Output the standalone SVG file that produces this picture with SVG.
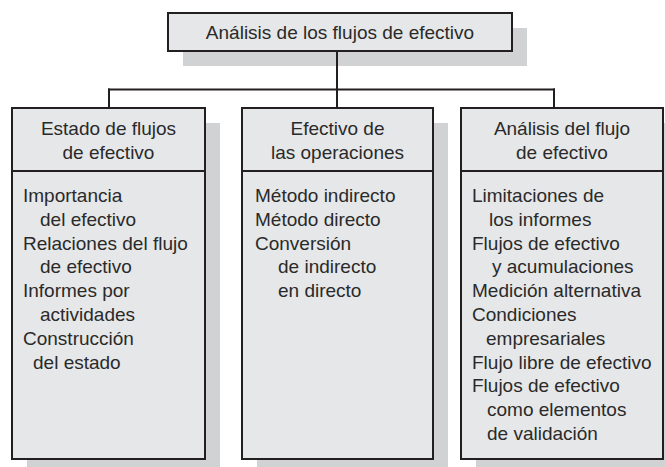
<svg xmlns="http://www.w3.org/2000/svg" width="665" height="467" viewBox="0 0 665 467">
<style>
.box{fill:#e6e7e8;stroke:#231f20;stroke-width:2}
.shadow{fill:#d1d2d4}
.sep{stroke:#231f20;stroke-width:2}
.conn{fill:none;stroke:#231f20;stroke-width:2}
text{font-family:"Liberation Sans",Arial,sans-serif;font-size:19px;fill:#2a2a2a}
.c{text-anchor:middle}
</style>
<rect width="665" height="467" fill="#ffffff"/>
<g id="root">
<rect class="shadow" x="183" y="28" width="344" height="38"/>
<rect class="box" x="168" y="13" width="344" height="38"/>
<text class="c" x="340" y="38.5">Análisis de los flujos de efectivo</text>
</g>
<g id="estado">
<rect class="shadow" x="27" y="123" width="193" height="351"/>
<rect class="box" x="12" y="108" width="193" height="351"/>
<line class="sep" x1="12" y1="171" x2="205" y2="171"/>
<text class="c" x="108.5" y="135">Estado de flujos</text>
<text class="c" x="108.5" y="158.5">de efectivo</text>
<text x="23" y="202">Importancia</text>
<text x="40" y="225.8">del efectivo</text>
<text x="23" y="249.6">Relaciones del flujo</text>
<text x="40" y="273.4">de efectivo</text>
<text x="23" y="297.2">Informes por</text>
<text x="40" y="321">actividades</text>
<text x="23" y="344.8">Construcción</text>
<text x="33" y="368.6">del estado</text>
</g>
<g id="operaciones">
<rect class="shadow" x="257" y="123" width="191" height="351"/>
<rect class="box" x="242" y="108" width="191" height="351"/>
<line class="sep" x1="242" y1="171" x2="433" y2="171"/>
<text class="c" x="337.5" y="135">Efectivo de</text>
<text class="c" x="337.5" y="158.5">las operaciones</text>
<text x="255" y="202">Método indirecto</text>
<text x="255" y="225.8">Método directo</text>
<text x="255" y="249.6">Conversión</text>
<text x="278" y="273.4">de indirecto</text>
<text x="278" y="297.2">en directo</text>
</g>
<g id="analisis">
<rect class="shadow" x="476" y="123" width="202" height="351"/>
<rect class="box" x="461" y="108" width="202" height="351"/>
<line class="sep" x1="461" y1="171" x2="663" y2="171"/>
<text class="c" x="562" y="135">Análisis del flujo</text>
<text class="c" x="562" y="158.5">de efectivo</text>
<text x="472" y="202">Limitaciones de</text>
<text x="489" y="225.8">los informes</text>
<text x="472" y="249.6">Flujos de efectivo</text>
<text x="492" y="273.4">y acumulaciones</text>
<text x="472" y="297.2">Medición alternativa</text>
<text x="472" y="321">Condiciones</text>
<text x="486" y="344.8">empresariales</text>
<text x="472" y="368.6">Flujo libre de efectivo</text>
<text x="472" y="392.4">Flujos de efectivo</text>
<text x="487" y="416.2">como elementos</text>
<text x="487" y="440">de validación</text>
</g>
<g id="connectors">
<line class="conn" x1="337" y1="51" x2="337" y2="89.5"/>
<line class="conn" x1="108" y1="89.5" x2="555" y2="89.5"/>
<line class="conn" x1="109" y1="88.5" x2="109" y2="108"/>
<line class="conn" x1="337" y1="88.5" x2="337" y2="108"/>
<line class="conn" x1="554" y1="88.5" x2="554" y2="108"/>
</g>
</svg>
